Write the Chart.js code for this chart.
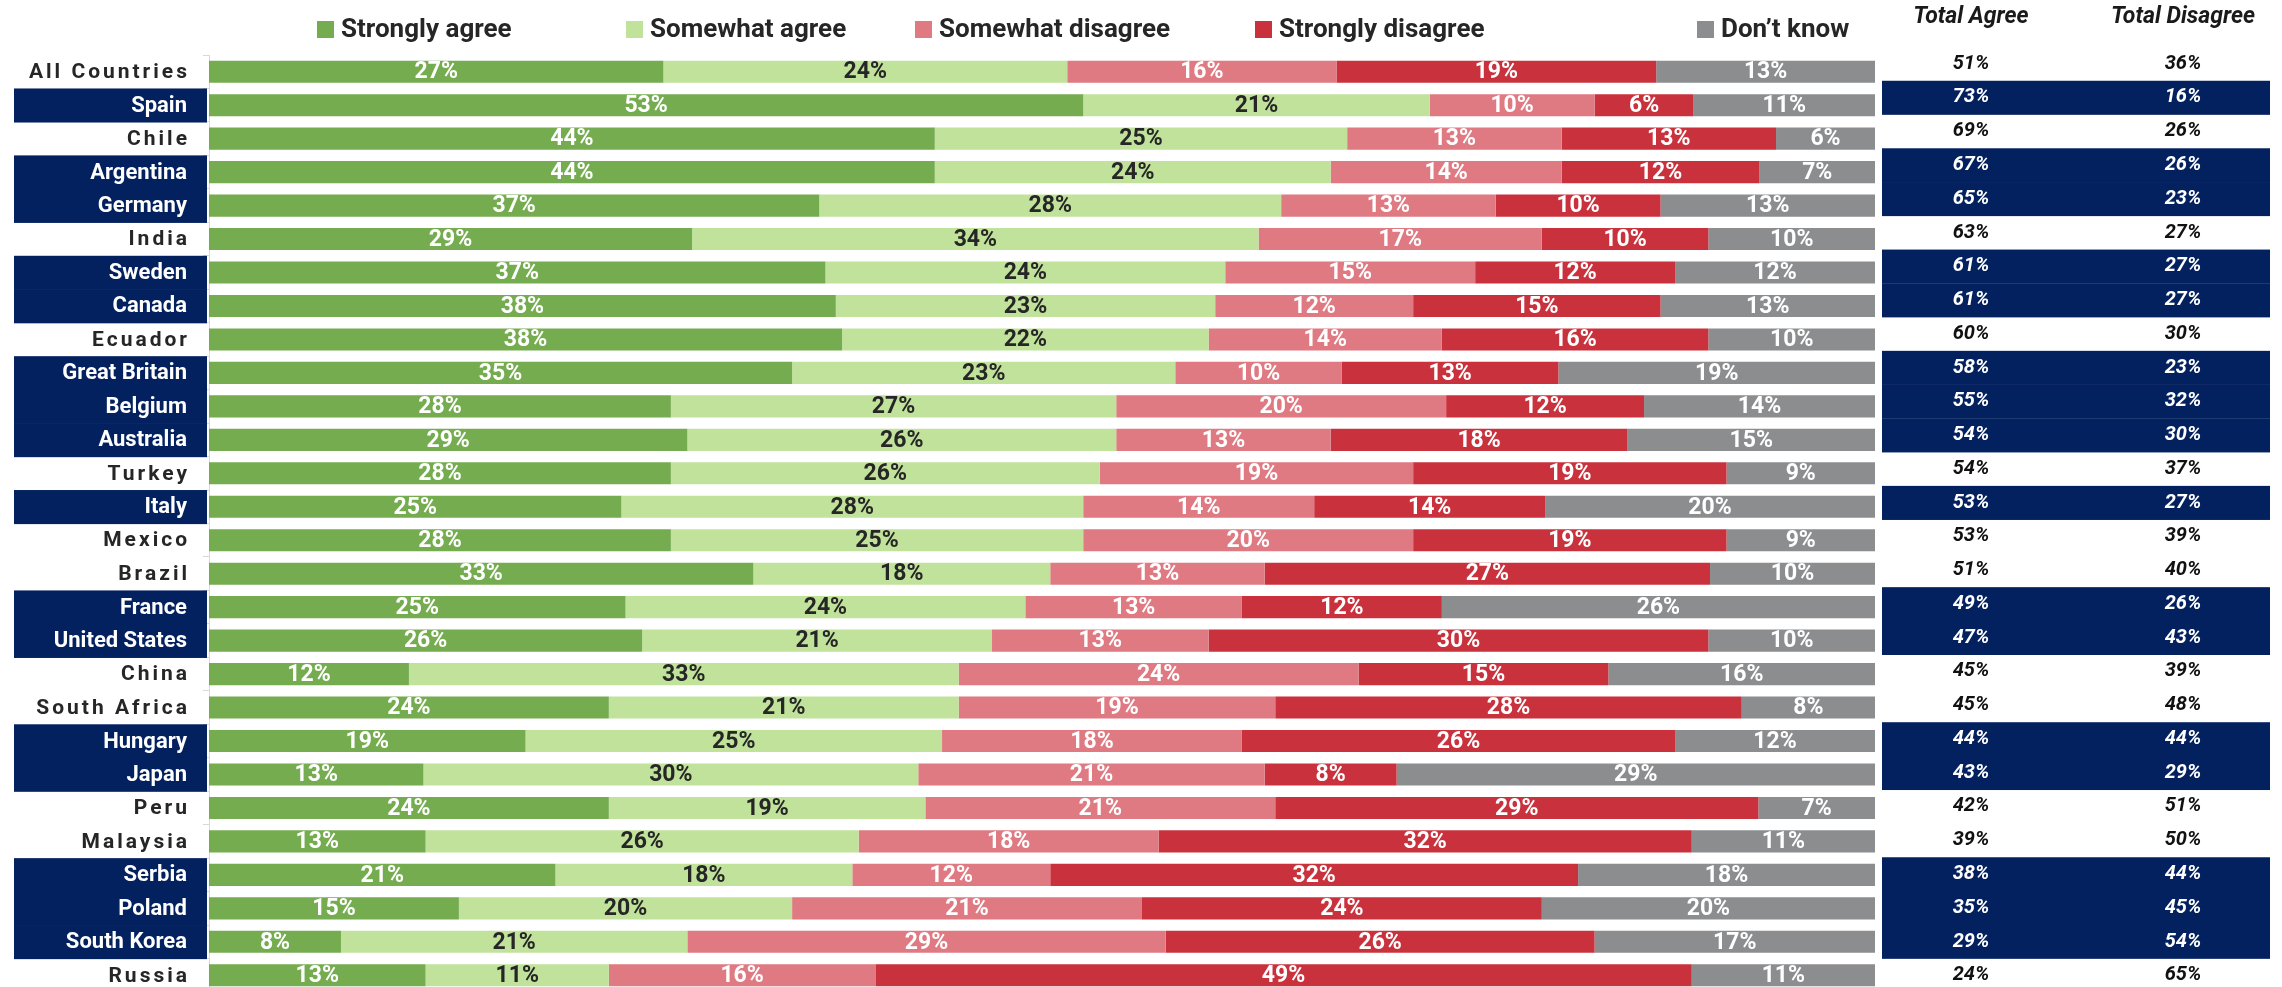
<!DOCTYPE html>
<html>
<head>
<meta charset="utf-8">
<script src="https://cdn.jsdelivr.net/npm/chart.js@4.4.1/dist/chart.umd.min.js"></script>
<style>
  html, body { margin: 0; padding: 0; background: #fff; overflow: hidden; }
</style>
</head>
<body>
<canvas id="chart" width="2282" height="992"></canvas>
<script>
// 국가별 응답 (%)
const countries = ["All Countries", "Spain", "Chile", "Argentina", "Germany", "India", "Sweden", "Canada",
  "Ecuador", "Great Britain", "Belgium", "Australia", "Turkey", "Italy", "Mexico", "Brazil", "France",
  "United States", "China", "South Africa", "Hungary", "Japan", "Peru", "Malaysia", "Serbia", "Poland",
  "South Korea", "Russia"];
const stronglyAgree    = [27, 53, 44, 44, 37, 29, 37, 38, 38, 35, 28, 29, 28, 25, 28, 33, 25, 26, 12, 24, 19, 13, 24, 13, 21, 15, 8, 13];
const somewhatAgree    = [24, 21, 25, 24, 28, 34, 24, 23, 22, 23, 27, 26, 26, 28, 25, 18, 24, 21, 33, 21, 25, 30, 19, 26, 18, 20, 21, 11];
const somewhatDisagree = [16, 10, 13, 14, 13, 17, 15, 12, 14, 10, 20, 13, 19, 14, 20, 13, 13, 13, 24, 19, 18, 21, 21, 18, 12, 21, 29, 16];
const stronglyDisagree = [19, 6, 13, 12, 10, 10, 12, 15, 16, 13, 12, 18, 19, 14, 19, 27, 12, 30, 15, 28, 26, 8, 29, 32, 32, 24, 26, 49];
const dontKnow         = [13, 11, 6, 7, 13, 10, 12, 13, 10, 19, 14, 15, 9, 20, 9, 10, 26, 10, 16, 8, 12, 29, 7, 11, 18, 20, 17, 11];
const totalAgree       = [51, 73, 69, 67, 65, 63, 61, 61, 60, 58, 55, 54, 54, 53, 53, 51, 49, 47, 45, 45, 44, 43, 42, 39, 38, 35, 29, 24];
const totalDisagree    = [36, 16, 26, 26, 23, 27, 27, 27, 30, 23, 32, 30, 37, 27, 39, 40, 26, 43, 39, 48, 44, 29, 51, 50, 44, 45, 54, 65];
const navyRows = ["Spain", "Argentina", "Germany", "Sweden", "Canada", "Great Britain", "Belgium", "Australia",
  "Italy", "France", "United States", "Hungary", "Japan", "Serbia", "Poland", "South Korea"];

const NAVY = "#03205f";
const FONT = "Roboto, 'Liberation Sans', sans-serif";

// 막대를 100% 로 채우기 위해 행 합계로 나눔
const rowTotal = countries.map((c, i) =>
  stronglyAgree[i] + somewhatAgree[i] + somewhatDisagree[i] + stronglyDisagree[i] + dontKnow[i]);
const toShare = arr => arr.map((v, i) => v / rowTotal[i] * 100);

function makeSet(label, values, color, textColor) {
  return {
    label: label,
    data: toShare(values),
    shown: values,
    textColor: textColor,
    backgroundColor: color,
    borderWidth: 0,
    categoryPercentage: 1,
    barPercentage: 0.66
  };
}

const sidePlugin = {
  id: "side",
  beforeDatasetsDraw(chart) {
    const ctx = chart.ctx, y = chart.scales.y;
    const band = y.getPixelForValue(1) - y.getPixelForValue(0);
    ctx.save();
    ctx.fillStyle = NAVY;
    countries.forEach((c, i) => {
      if (!navyRows.includes(c)) return;
      const cy = y.getPixelForValue(i);
      ctx.fillRect(14, cy - band / 2, 193, band + 0.6);
      const shift = -8 * (1 - i / (countries.length - 1));
      ctx.fillRect(1882, cy - band / 2 + shift, 388, band + 0.6);
    });
    ctx.restore();
  },
  afterDraw(chart) {
    const ctx = chart.ctx, y = chart.scales.y;
    ctx.save();
    ctx.textBaseline = "middle";

    // 나라 이름
    countries.forEach((c, i) => {
      const cy = y.getPixelForValue(i);
      ctx.textAlign = "right";
      if (navyRows.includes(c)) {
        ctx.letterSpacing = "0px";
        ctx.fillStyle = "#ffffff";
        ctx.font = "bold 22px " + FONT;
        ctx.fillText(c, 187, cy + 1);
      } else {
        ctx.letterSpacing = "3px";
        ctx.fillStyle = "#262626";
        ctx.font = "bold 21px " + FONT;
        ctx.fillText(c, 190, cy + 1);
      }
    });
    ctx.letterSpacing = "0px";

    // 범례
    const legendX = [317, 626, 915, 1255, 1697];
    ctx.font = "bold 26px " + FONT;
    ctx.textAlign = "left";
    chart.data.datasets.forEach((ds, k) => {
      ctx.fillStyle = ds.backgroundColor;
      ctx.fillRect(legendX[k], 21, 17, 17);
      ctx.fillStyle = "#262626";
      ctx.fillText(ds.label, legendX[k] + 24, 30);
    });

    // Total Agree / Total Disagree
    ctx.textAlign = "center";
    ctx.font = "italic bold 23px " + FONT;
    ctx.fillStyle = "#1a1a1a";
    ctx.fillText("Total Agree", 1971, 17);
    ctx.fillText("Total Disagree", 2183, 17);
    ctx.font = "italic bold 20px " + FONT;
    countries.forEach((c, i) => {
      const shift = -8 * (1 - i / (countries.length - 1));
      const cy = y.getPixelForValue(i) + shift;
      ctx.fillStyle = navyRows.includes(c) ? "#ffffff" : "#111111";
      ctx.fillText(totalAgree[i] + "%", 1971, cy);
      ctx.fillText(totalDisagree[i] + "%", 2183, cy);
    });
    ctx.restore();
  },
  afterDatasetsDraw(chart) {
    const ctx = chart.ctx;
    ctx.save();
    ctx.font = "bold 23px " + FONT;
    ctx.textAlign = "center";
    ctx.textBaseline = "middle";
    chart.data.datasets.forEach((ds, k) => {
      chart.getDatasetMeta(k).data.forEach((bar, i) => {
        ctx.fillStyle = ds.textColor;
        ctx.fillText(ds.shown[i] + "%", (bar.x + bar.base) / 2, bar.y + 1);
      });
    });
    ctx.restore();
  }
};

new Chart(document.getElementById("chart"), {
  type: "bar",
  data: {
    labels: countries,
    datasets: [
      makeSet("Strongly agree", stronglyAgree, "#75ac4f", "#ffffff"),
      makeSet("Somewhat agree", somewhatAgree, "#c0e29b", "#262626"),
      makeSet("Somewhat disagree", somewhatDisagree, "#df7982", "#ffffff"),
      makeSet("Strongly disagree", stronglyDisagree, "#c9323d", "#ffffff"),
      makeSet("Don\u2019t know", dontKnow, "#8b8d8f", "#ffffff")
    ]
  },
  options: {
    indexAxis: "y",
    responsive: false,
    animation: false,
    layout: { padding: { left: 203, right: 407, top: 55, bottom: 0 } },
    scales: {
      x: { stacked: true, min: 0, max: 100, display: false },
      y: {
        stacked: true,
        ticks: { display: false },
        grid: { drawOnChartArea: false, tickLength: 6, color: "#d9d9d9" },
        border: { color: "#d9d9d9" }
      }
    },
    plugins: {
      legend: { display: false },
      tooltip: { enabled: false }
    }
  },
  plugins: [sidePlugin]
});
</script>
</body>
</html>
